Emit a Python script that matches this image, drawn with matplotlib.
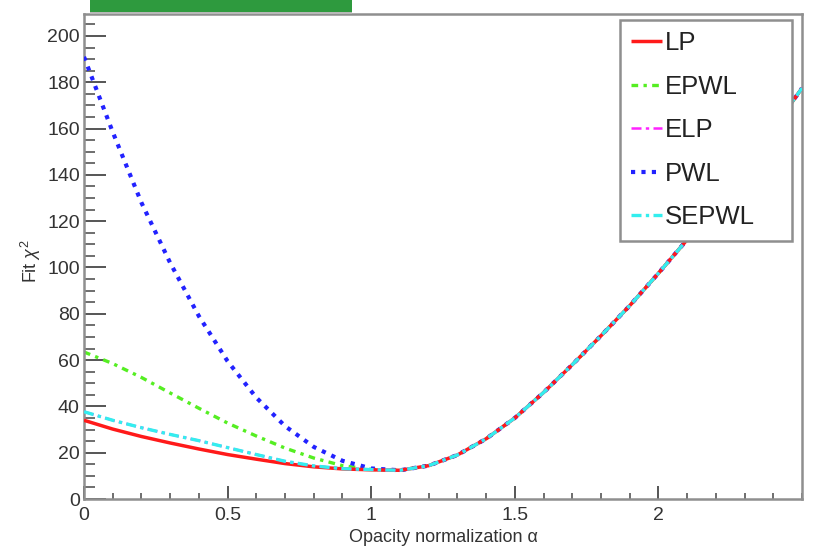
import matplotlib
matplotlib.use("Agg")
import matplotlib.pyplot as plt
from matplotlib.patches import Rectangle
from matplotlib.ticker import MultipleLocator

# ---- data ----
alpha = [0.0, 0.1, 0.2, 0.3, 0.4, 0.5, 0.6, 0.7, 0.8, 0.9, 1.0,
         1.1, 1.2, 1.3, 1.4, 1.5, 1.6, 1.7, 1.8, 1.9, 2.0,
         2.1, 2.2, 2.3, 2.4, 2.5]

right_branch = [12.4, 14.4, 19.0, 26.0, 35.0, 46.0, 58.0, 70.5, 83.5, 97.5,
                112.0, 127.0, 143.0, 160.0, 177.5]

lp_left    = [34.0, 30.2, 27.0, 24.2, 21.6, 19.2, 17.2, 15.3, 13.9, 13.0, 12.6]
epwl_left  = [63.5, 58.5, 52.5, 45.8, 39.2, 32.8, 27.2, 22.0, 17.7, 14.4, 12.8]
elp_left   = [37.7, 34.0, 30.8, 27.9, 25.2, 22.2, 19.2, 16.3, 14.3, 13.1, 12.7]
pwl_left   = [191.0, 158.5, 128.0, 102.0, 79.0, 59.5, 43.8, 31.5, 22.5, 16.5, 13.2]
sepwl_left = [37.7, 34.0, 30.8, 27.9, 25.2, 22.2, 19.2, 16.3, 14.3, 13.1, 12.7]

series_names = ["LP", "EPWL", "ELP", "PWL", "SEPWL"]

chi2 = {
    "LP": lp_left + right_branch,
    "EPWL": epwl_left + right_branch,
    "ELP": elp_left + right_branch,
    "PWL": pwl_left + right_branch,
    "SEPWL": sepwl_left + right_branch,
}

x_ticks = [0, 0.5, 1, 1.5, 2]
x_tick_labels = ["0", "0.5", "1", "1.5", "2"]
y_ticks = [0, 20, 40, 60, 80, 100, 120, 140, 160, 180, 200]

# ---- styling ----
plt.rcParams['font.family'] = ['Liberation Sans', 'DejaVu Sans']
plt.rcParams['mathtext.fontset'] = 'custom'
plt.rcParams['mathtext.rm'] = 'Liberation Sans'
plt.rcParams['mathtext.it'] = 'Liberation Sans:italic'

W, H = 821, 555
fig = plt.figure(figsize=(W / 100, H / 100), dpi=100)
ax = fig.add_axes([84 / W, 1 - 499 / H, (802 - 84) / W, (499 - 14) / H])

sep_lw = 2.4
sep_dash = (3.0, 1.3, 1.0, 1.3)
elp_lw = 1.8
elp_dash = tuple(d * sep_lw / elp_lw for d in sep_dash)

styles = {
    "LP":    dict(color="#ff1a1a", lw=2.5, ls="-", zorder=4),
    "EPWL":  dict(color="#55ee22", lw=2.4, ls=(0, (2.0, 1.6, 1.0, 1.6)), zorder=2),
    "ELP":   dict(color="#ff22ff", lw=elp_lw, ls=(0, elp_dash), zorder=4.5),
    "PWL":   dict(color="#2222ff", lw=3.0, ls=(0, (1.0, 1.5)), zorder=3),
    "SEPWL": dict(color="#33eeee", lw=sep_lw, ls=(0, sep_dash), zorder=5),
}

handles = {}
for name in series_names:
    st = styles[name]
    (ln,) = ax.plot(alpha, chi2[name], color=st["color"], lw=st["lw"],
                    linestyle=st["ls"], zorder=st["zorder"], label=name,
                    solid_capstyle="butt", dash_capstyle="butt")
    handles[name] = ln

ax.set_xlim(0, 2.5)
ax.set_ylim(0, 209.5)

ax.set_xticks(x_ticks)
ax.set_xticklabels(x_tick_labels)
ax.set_yticks(y_ticks)
ax.xaxis.set_minor_locator(MultipleLocator(0.1))
ax.yaxis.set_minor_locator(MultipleLocator(5))

tick_col = "#555555"
ax.tick_params(axis="both", which="both", direction="in", colors=tick_col,
               labelcolor="#333333", top=False, right=False)
ax.tick_params(axis="x", which="major", length=9.5, width=1.4, pad=6, labelsize=14)
ax.tick_params(axis="x", which="minor", length=4, width=1.2)
ax.tick_params(axis="y", which="major", length=16, width=1.4, pad=3, labelsize=14)
ax.tick_params(axis="y", which="minor", length=8, width=1.2)

for sp in ax.spines.values():
    sp.set_color("#8f8f8f")
    sp.set_linewidth(1.8)

ax.set_xlabel("Opacity normalization α", fontsize=13, color="#333333")
ax.xaxis.set_label_coords(0.5, -0.062)
ax.set_ylabel(r"Fit $\chi^2$", fontsize=13, color="#333333")
ax.yaxis.set_label_coords(-0.057, 0.49)

leg = ax.legend([handles[n] for n in series_names], series_names,
                loc="upper left",
                bbox_to_anchor=(620 / W, 1 - 20 / H, (792 - 620) / W, 0.0),
                bbox_transform=fig.transFigure, mode="expand",
                fontsize=18.5, handlelength=1.2, handletextpad=0.1,
                labelspacing=0.76, borderpad=0.44, borderaxespad=0.0,
                fancybox=False, framealpha=1.0, edgecolor="#8f8f8f")
leg.get_frame().set_linewidth(1.8)
for t in leg.get_texts():
    t.set_color("#222222")

# green title box at the top (cut off in the reference)
fig.patches.append(Rectangle((90 / W, 1 - 12 / H), (352 - 90) / W, 12 / H,
                             transform=fig.transFigure, facecolor="#2e9a3e",
                             edgecolor="none", zorder=10))
fig.patches.append(Rectangle((90 / W, 1 - 14 / H), (352 - 90) / W, 2 / H,
                             transform=fig.transFigure, facecolor="#b8b8b8",
                             edgecolor="none", zorder=10))

fig.savefig("out.png", dpi=100)
